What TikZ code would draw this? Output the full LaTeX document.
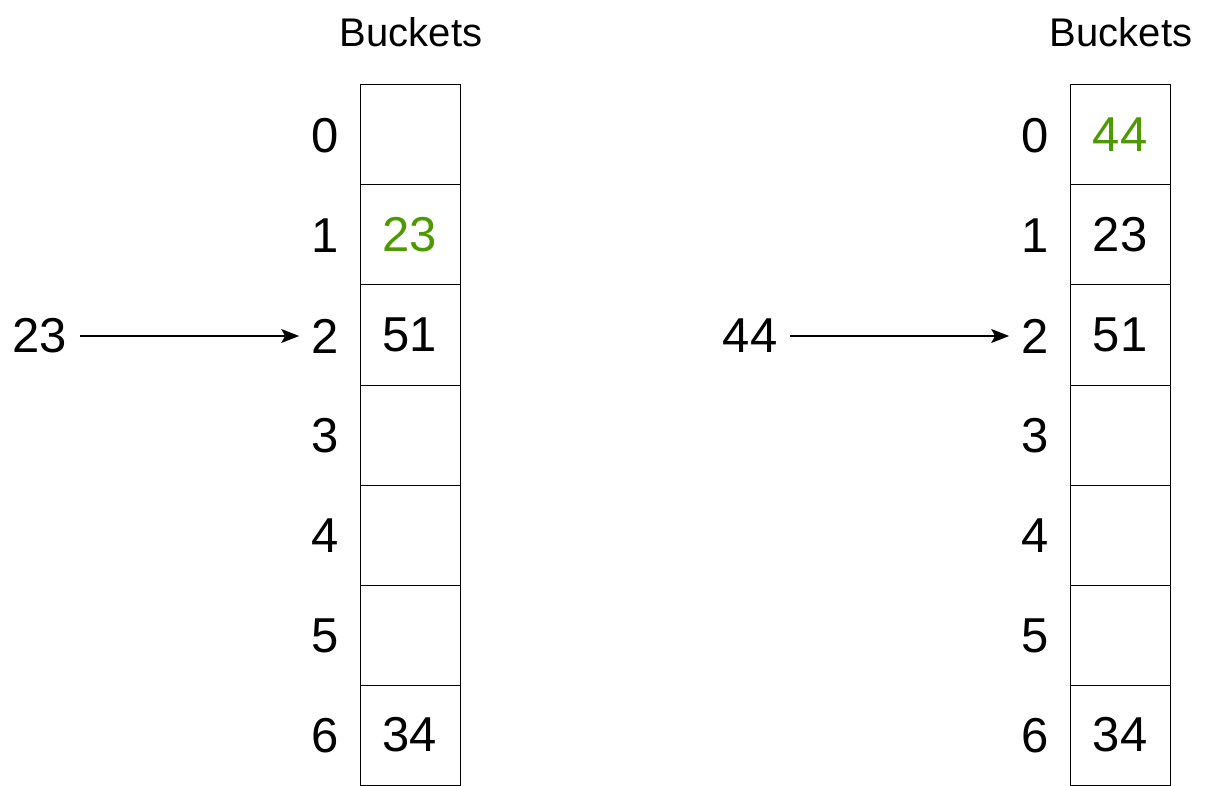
\documentclass[tikz,border=0pt]{standalone}
\usepackage{fontspec}
\setmainfont{Liberation Sans}
\usetikzlibrary{arrows.meta}
\definecolor{hgreen}{HTML}{4D9900}
\begin{document}
\begin{tikzpicture}[x=1pt,y=-1pt,
  cell/.style={draw=black,line width=1pt,minimum width=100pt,minimum height=100pt,inner sep=0pt,font=\fontsize{49}{49}\selectfont},
  idx/.style={inner sep=0pt,font=\fontsize{49}{49}\selectfont},
  title/.style={inner sep=0pt,font=\fontsize{40}{40}\selectfont},
  arr/.style={-{Stealth[length=18pt,width=14pt,inset=4pt]},line width=1.6pt,shorten <=13pt,shorten >=12pt}]
\useasboundingbox (0,0) rectangle (1207,786);
% left table
\node[title] (tL) at (411,32) {Buckets};
\foreach \i/\v in {0/,1/{\color{hgreen}23},2/51,3/,4/,5/,6/34}{
  \node[cell] (cL\i) at (410,135+100*\i) {\v};
  \node[idx] (iL\i) at (325,136+100*\i) {\i};
}
\node[idx] (sL) at (40,336) {23};
\draw[arr] (sL.east) -- (iL2.west);
% right table
\node[title] (tR) at (1121,32) {Buckets};
\foreach \i/\v in {0/{\color{hgreen}44},1/23,2/51,3/,4/,5/,6/34}{
  \node[cell] (cR\i) at (1120,135+100*\i) {\v};
  \node[idx] (iR\i) at (1035,136+100*\i) {\i};
}
\node[idx] (sR) at (750,336) {44};
\draw[arr] (sR.east) -- (iR2.west);
\end{tikzpicture}
\end{document}
